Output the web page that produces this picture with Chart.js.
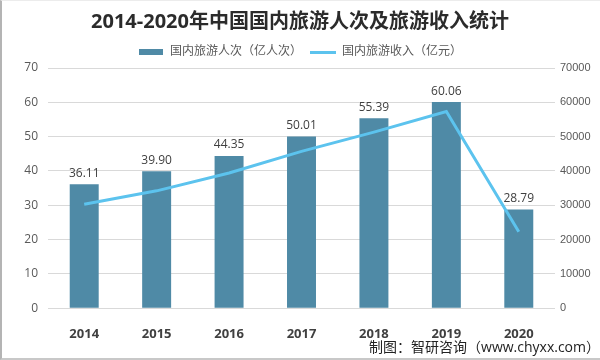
<!DOCTYPE html>
<html>
<head>
<meta charset="utf-8">
<script src="https://cdn.jsdelivr.net/npm/chart.js@4"></script>
<style>
  html, body { margin: 0; padding: 0; background: #fff; }
  #wrap { position: relative; width: 600px; height: 360px; }
  #edge { position: absolute; left: 0; top: 0; width: 600px; height: 360px; box-sizing: border-box;
          border-left: 2px solid #b4b4b4; border-bottom: 2px solid #c8c8c8; border-top: 1px solid #ececec;
          pointer-events: none; }
</style>
</head>
<body>
<div id="wrap">
  <canvas id="chart" width="600" height="360"></canvas>
  <div id="edge"></div>
</div>
<script>
const years = ['2014', '2015', '2016', '2017', '2018', '2019', '2020'];
const trips = [36.11, 39.90, 44.35, 50.01, 55.39, 60.06, 28.79];   // 亿人次
const revenue = [30300, 34200, 39400, 45700, 51300, 57300, 22300]; // 亿元

const BAR = '#4f8aa6';
const LINE = '#5cc3ee';
const FONT = "'Open Sans', 'Noto Sans CJK SC', sans-serif";
const NUM = "'Liberation Sans', Arial, sans-serif";

function swatch(w, h, color) {
  const c = document.createElement('canvas');
  c.width = w; c.height = h;
  const g = c.getContext('2d');
  g.fillStyle = color;
  g.fillRect(0, 0, w, h);
  return c;
}

const barLabels = {
  id: 'barLabels',
  afterDatasetsDraw(chart) {
    const ctx = chart.ctx;
    const meta = chart.getDatasetMeta(0);
    ctx.save();
    ctx.fillStyle = '#404040';
    ctx.font = "12px " + FONT;
    ctx.textAlign = 'center';
    ctx.textBaseline = 'bottom';
    meta.data.forEach((bar, i) => {
      ctx.fillText(trips[i].toFixed(2), bar.x, bar.y - 5);
    });
    ctx.restore();
  }
};

new Chart(document.getElementById('chart'), {
  data: {
    labels: years,
    datasets: [
      {
        type: 'bar',
        label: '国内旅游人次（亿人次）',
        data: trips,
        backgroundColor: BAR,
        yAxisID: 'y',
        barPercentage: 0.4,
        categoryPercentage: 1,
        order: 1
      },
      {
        type: 'line',
        label: '国内旅游收入（亿元）',
        data: revenue,
        borderColor: LINE,
        backgroundColor: LINE,
        borderWidth: 3,
        pointRadius: 0,
        tension: 0,
        yAxisID: 'y1',
        order: 0
      }
    ]
  },
  options: {
    responsive: false,
    animation: false,
    layout: { padding: { left: 0, right: 0, top: 0, bottom: 0 } },
    plugins: {
      title: {
        display: true,
        text: '2014-2020年中国国内旅游人次及旅游收入统计',
        color: '#2b2b2b',
        font: { family: FONT, size: 20, weight: 'bold' },
        padding: { top: 10, bottom: 4 }
      },
      subtitle: {
        display: true,
        position: 'bottom',
        align: 'end',
        text: '制图：智研咨询（www.chyxx.com）',
        color: '#222',
        font: { family: FONT, size: 14 },
        padding: { top: 0, bottom: 4 }
      },
      legend: {
        labels: {
          color: '#595959',
          font: { family: FONT, size: 12 },
          usePointStyle: true,
          pointStyleWidth: 26,
          padding: 8,
          sort: (a, b) => a.datasetIndex - b.datasetIndex,
          generateLabels(chart) {
            return chart.data.datasets.map((ds, i) => ({
              text: ds.label,
              datasetIndex: i,
              fontColor: '#595959',
              pointStyle: i === 0 ? swatch(24, 6, BAR) : swatch(26, 3, LINE),
              lineWidth: 0,
              hidden: false
            }));
          }
        }
      },
      tooltip: { enabled: false }
    },
    scales: {
      x: {
        grid: { display: false },
        border: { display: false },
        ticks: { color: '#404040', padding: 10, font: { family: FONT, size: 13, weight: 'bold' } },
        afterFit: s => { s.height = 31; }
      },
      y: {
        position: 'left',
        min: 0, max: 70,
        ticks: { stepSize: 10, color: '#595959', padding: 10, font: { family: FONT, size: 12 } },
        grid: { color: '#d9d9d9', drawTicks: false },
        border: { display: false },
        afterFit: s => { s.width = 48; }
      },
      y1: {
        position: 'right',
        min: 0, max: 70000,
        ticks: { stepSize: 10000, color: '#595959', padding: 5, font: { family: NUM, size: 11 },
                 callback: v => String(v) },
        grid: { display: false, drawTicks: false },
        border: { display: false },
        afterFit: s => { s.width = 45; }
      }
    }
  },
  plugins: [barLabels]
});
</script>
</body>
</html>
